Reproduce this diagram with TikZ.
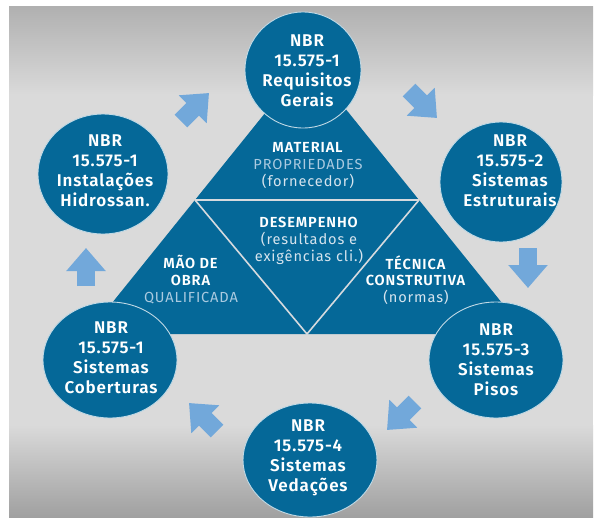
\documentclass[tikz,border=0pt]{standalone}
\usepackage{fontspec}
\setmainfont{Fira Sans}
\newfontfamily\circfont{Fira Sans SemiBold}[LetterSpace=5]
\newfontfamily\trifont{Fira Sans}[LetterSpace=6,BoldFont={Fira Sans SemiBold}]
\usetikzlibrary{shapes.geometric,arrows.meta}
\definecolor{nbrblue}{RGB}{5,104,152}
\definecolor{arrowblue}{RGB}{114,168,218}
\definecolor{lightlbl}{RGB}{170,202,224}
\definecolor{softwhite}{RGB}{214,228,238}
\definecolor{bgmid}{RGB}{218,218,218}
\definecolor{bgtop}{RGB}{176,176,176}
\definecolor{bgbot}{RGB}{160,160,160}
\definecolor{divline}{RGB}{214,218,222}
\begin{document}
\begin{tikzpicture}[x=1pt,y=-1pt,
  circ/.style={ellipse, fill=nbrblue, draw=white!75!nbrblue, line width=0.9pt, inner sep=0pt},
  ctext/.style={align=center, text=white, inner sep=0pt, font=\circfont\fontsize{17}{20}\selectfont},
  ttext/.style={align=center, text=white, inner sep=0pt, font=\trifont\fontsize{14.6}{16.8}\selectfont},
  divider/.style={draw=divline, line width=1.6pt},
  blockarrow/.style={draw=arrowblue, line width=18pt, -{Triangle[width=38pt,length=23pt]}}
]
\useasboundingbox (0,0) rectangle (598,520);
\fill[white] (0,0) rectangle (598,520);
\fill[bgmid] (9,6) rectangle (593,517);
\shade[top color=bgtop, bottom color=bgmid] (9,6) rectangle (593,95);
\shade[top color=bgmid, bottom color=bgbot] (9,425) rectangle (593,517);

% central triangle
\fill[nbrblue] (307,61) -- (527,334) -- (87,334) -- cycle;
\draw[divider] (195,200) -- (419,200);
\draw[divider] (195,200) -- (307,334) -- (419,200);

% circles
\node[circ, minimum width=116pt, minimum height=116pt] (c1) at (303,70) {};
\node[circ, minimum width=122pt, minimum height=120pt] (c2) at (501,182) {};
\node[circ, minimum width=134pt, minimum height=116pt] (c3) at (496,360) {};
\node[circ, minimum width=134pt, minimum height=114pt] (c4) at (310,460) {};
\node[circ, minimum width=134pt, minimum height=116pt] (c5) at (110,360) {};
\node[circ, minimum width=130pt, minimum height=120pt] (c6) at (103,174) {};

% circle texts
\node[ctext] (t1) at (307,70.5) {NBR\\15.575-1\\Requisitos\\Gerais};
\node[ctext] (t2) at (510,171) {NBR\\15.575-2\\Sistemas\\Estruturais};
\node[ctext] (t3) at (496,360) {NBR\\15.575-3\\Sistemas\\Pisos};
\node[ctext] (t4) at (308,458) {NBR\\15.575-4\\Sistemas\\Vedações};
\node[ctext] (t5) at (111,357.5) {NBR\\15.575-1\\Sistemas\\Coberturas};
\node[ctext] (t6) at (105,171) {NBR\\15.575-1\\Instalações\\Hidrossan.};

% triangle texts
\node[ttext] (m) at (308,165.5) {\textbf{MATERIAL}\\\textcolor{lightlbl}{PROPRIEDADES}\\\textcolor{softwhite}{(fornecedor)}};
\node[ttext] (d) at (309,241) {\textbf{DESEMPENHO}\\\textcolor{softwhite}{(resultados e}\\\textcolor{softwhite}{exigências cli.)}};
\node[ttext] (o) at (191,279.5) {\textbf{MÃO DE}\\\textbf{OBRA}\\\textcolor{lightlbl}{QUALIFICADA}};
\node[ttext] (k) at (416,280) {\textbf{TÉCNICA}\\\textbf{CONSTRUTIVA}\\\textcolor{softwhite}{(normas)}};

% arrows
\coordinate (a1s) at (181,121); \coordinate (a1e) at (209,93);
\coordinate (a2s) at (409,90);  \coordinate (a2e) at (437,118);
\coordinate (a3s) at (528,248); \coordinate (a3e) at (528,288);
\coordinate (a4s) at (415,402); \coordinate (a4e) at (387,430);
\coordinate (a5s) at (217,431); \coordinate (a5e) at (189,403);
\coordinate (a6s) at (86,286);  \coordinate (a6e) at (86,248);
\foreach \i in {1,...,6} {\draw[blockarrow] (a\i s) -- (a\i e);}
\end{tikzpicture}
\end{document}
